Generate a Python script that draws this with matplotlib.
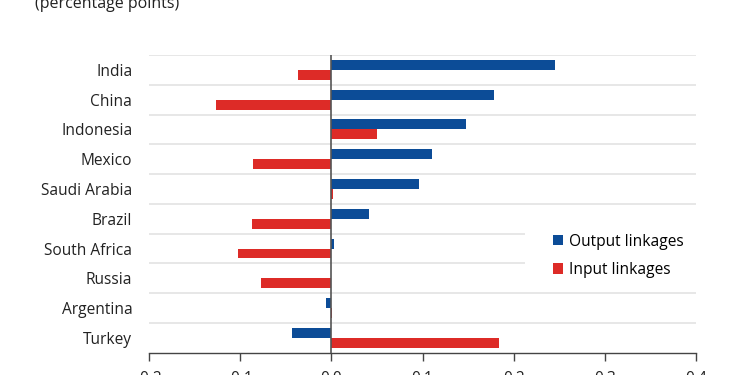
import matplotlib
matplotlib.use("Agg")
import matplotlib.pyplot as plt
from matplotlib.patches import Rectangle
import numpy as np

countries = ["India", "China", "Indonesia", "Mexico", "Saudi Arabia", "Brazil",
             "South Africa", "Russia", "Argentina", "Turkey"]
output_linkages = [0.245, 0.178, 0.148, 0.110, 0.096, 0.041, 0.003, 0.0, -0.006, -0.043]
input_linkages = [-0.037, -0.126, 0.050, -0.086, 0.002, -0.087, -0.102, -0.077, 0.001, 0.184]
xticks = [-0.2, -0.1, 0.0, 0.1, 0.2, 0.3, 0.4]
xticklabels = ["-0.2", "-0.1", "0.0", "0.1", "0.2", "0.3", "0.4"]

plt.rcParams['font.family'] = ['Open Sans', 'DejaVu Sans']
blue = "#0c4c97"
red = "#dd2b27"
txt = "#222222"
fs = 11.2

fig = plt.figure(figsize=(7.5, 3.75), dpi=100)
ax = fig.add_axes([0.1987, 0.0595, 0.7293, 0.7938])

n = len(countries)
y = np.arange(n)
h = 0.335
ax.barh(y - h/2, output_linkages, height=h, color=blue, label="Output linkages", zorder=3)
ax.barh(y + h/2, input_linkages, height=h, color=red, label="Input linkages", zorder=3)

ax.set_ylim(n - 0.5, -0.5)
ax.set_xlim(-0.2, 0.4)
ax.set_yticks(y)
ax.set_yticklabels(countries, fontsize=fs, color=txt)
ax.tick_params(axis='y', length=0, pad=12)
ax.set_xticks(xticks)
ax.set_xticklabels(xticklabels, fontsize=fs, color=txt)
ax.tick_params(axis='x', direction='out', length=6, width=1, color="#444444", pad=7)

for b in np.arange(-0.5, n - 0.5, 1.0):
    ax.axhline(b, color="#e3e3e3", lw=1.2, zorder=1)
ax.axvline(0, color="#555555", lw=1.2, zorder=4)

for s in ["top", "right", "left"]:
    ax.spines[s].set_visible(False)
ax.spines["bottom"].set_color("#444444")
ax.spines["bottom"].set_linewidth(1)

ax.add_patch(Rectangle((0.688, 0.22), 0.32, 0.25, transform=ax.transAxes,
                       facecolor="white", edgecolor="none", zorder=2, clip_on=False))

leg = ax.legend(loc="upper left", bbox_to_anchor=(0.7386, 0.40), frameon=False,
                fontsize=fs, handlelength=0.65, handleheight=0.65, handletextpad=0.35,
                labelspacing=0.8, borderpad=0, borderaxespad=0)
leg.set_zorder(5)

fig.text(0.047, 1 - 4/375, "(percentage points)", fontsize=11.5, color=txt, va="center", ha="left")

fig.savefig("out.png", dpi=100)
